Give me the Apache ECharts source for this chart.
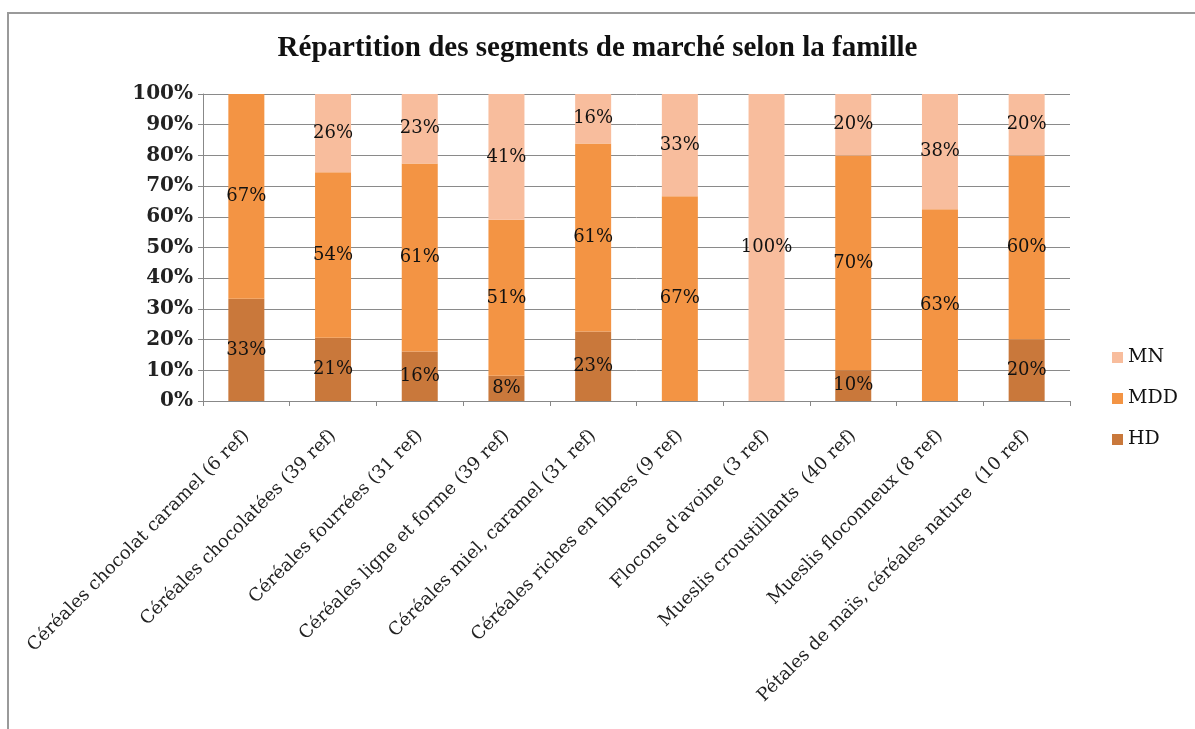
<!DOCTYPE html>
<html>
<head>
<meta charset="utf-8">
<script src="https://cdn.jsdelivr.net/npm/echarts@6/dist/echarts.min.js"></script>
<style>
html, body { margin: 0; padding: 0; background: #fff; }
#chart { width: 1195px; height: 729px; }
</style>
</head>
<body>
<div id="chart"></div>
<script>
// familles (axe x)
var categories = [
	'Céréales chocolat caramel (6 ref)',
	'Céréales chocolatées (39 ref)',
	'Céréales fourrées (31 ref)',
	'Céréales ligne et forme (39 ref)',
	'Céréales miel, caramel (31 ref)',
	'Céréales riches en fibres (9 ref)',
	'Flocons d\'avoine (3 ref)',
	'Mueslis croustillants  (40 ref)',
	'Mueslis floconneux (8 ref)',
	'Pétales de maïs, céréales nature  (10 ref)'
];

// parts en %
var hdValues  = [33.3, 20.6, 16.1, 8.2, 22.6, 0, 0, 10, 0, 20];
var mddValues = [66.7, 53.9, 61.3, 50.8, 61.3, 66.7, 0, 70, 62.5, 60];
var mnValues  = [0, 25.5, 22.6, 41.0, 16.1, 33.3, 100, 20, 37.5, 20];

var yTicks = [0, 10, 20, 30, 40, 50, 60, 70, 80, 90, 100];

var chart = echarts.init(document.getElementById('chart'));

var labelStyle = {
	show: true,
	position: 'inside',
	fontFamily: 'DejaVu Serif',
	fontSize: 18,
	color: '#111',
	formatter: function (p) {
		return p.value > 0 ? Math.round(p.value) + '%' : '';
	}
};

var options = {
	animation: false,
	backgroundColor: '#fff',
	graphic: [{
		type: 'rect',
		shape: { x: 8, y: 13, width: 1200, height: 730 },
		style: { fill: 'none', stroke: '#9a9a9a', lineWidth: 2 }
	}],
	title: {
		text: 'Répartition des segments de marché selon la famille',
		left: 'center',
		top: 29,
		textStyle: {
			fontFamily: 'Liberation Serif',
			fontWeight: 'bold',
			fontSize: 29,
			color: '#111'
		}
	},
	legend: {
		data: ['MN', 'MDD', 'HD'],
		orient: 'vertical',
		left: 1107,
		top: 343,
		itemWidth: 11,
		itemHeight: 11,
		itemGap: 22,
		icon: 'rect',
		textStyle: {
			fontFamily: 'DejaVu Serif',
			fontSize: 19,
			color: '#111'
		}
	},
	grid: {
		left: 203,
		right: 125,
		top: 94,
		bottom: 328
	},
	xAxis: {
		type: 'category',
		data: categories,
		axisLine: { lineStyle: { color: '#888' } },
		axisTick: { show: true, length: 5, lineStyle: { color: '#888' } },
		axisLabel: {
			rotate: 45,
			interval: 0,
			margin: 32,
			fontFamily: 'DejaVu Serif',
			fontSize: 18,
			color: '#222'
		}
	},
	yAxis: {
		type: 'value',
		min: 0,
		max: yTicks[yTicks.length - 1],
		interval: 10,
		axisLine: { show: true, lineStyle: { color: '#888' } },
		axisTick: { show: true, length: 5, lineStyle: { color: '#888' } },
		splitLine: { lineStyle: { color: '#8a8a8a' } },
		axisLabel: {
			formatter: '{value}%',
			margin: 10,
			fontFamily: 'DejaVu Serif',
			fontWeight: 'bold',
			fontSize: 20,
			color: '#222'
		}
	},
	series: [
		{
			name: 'HD',
			type: 'bar',
			stack: 'total',
			barWidth: 36,
			data: hdValues,
			itemStyle: { color: '#c9783b' },
			label: labelStyle
		},
		{
			name: 'MDD',
			type: 'bar',
			stack: 'total',
			barWidth: 36,
			data: mddValues,
			itemStyle: { color: '#f39444' },
			label: labelStyle
		},
		{
			name: 'MN',
			type: 'bar',
			stack: 'total',
			barWidth: 36,
			data: mnValues,
			itemStyle: { color: '#f8bd9d' },
			label: labelStyle
		}
	]
};

chart.setOption(options);
</script>
</body>
</html>
